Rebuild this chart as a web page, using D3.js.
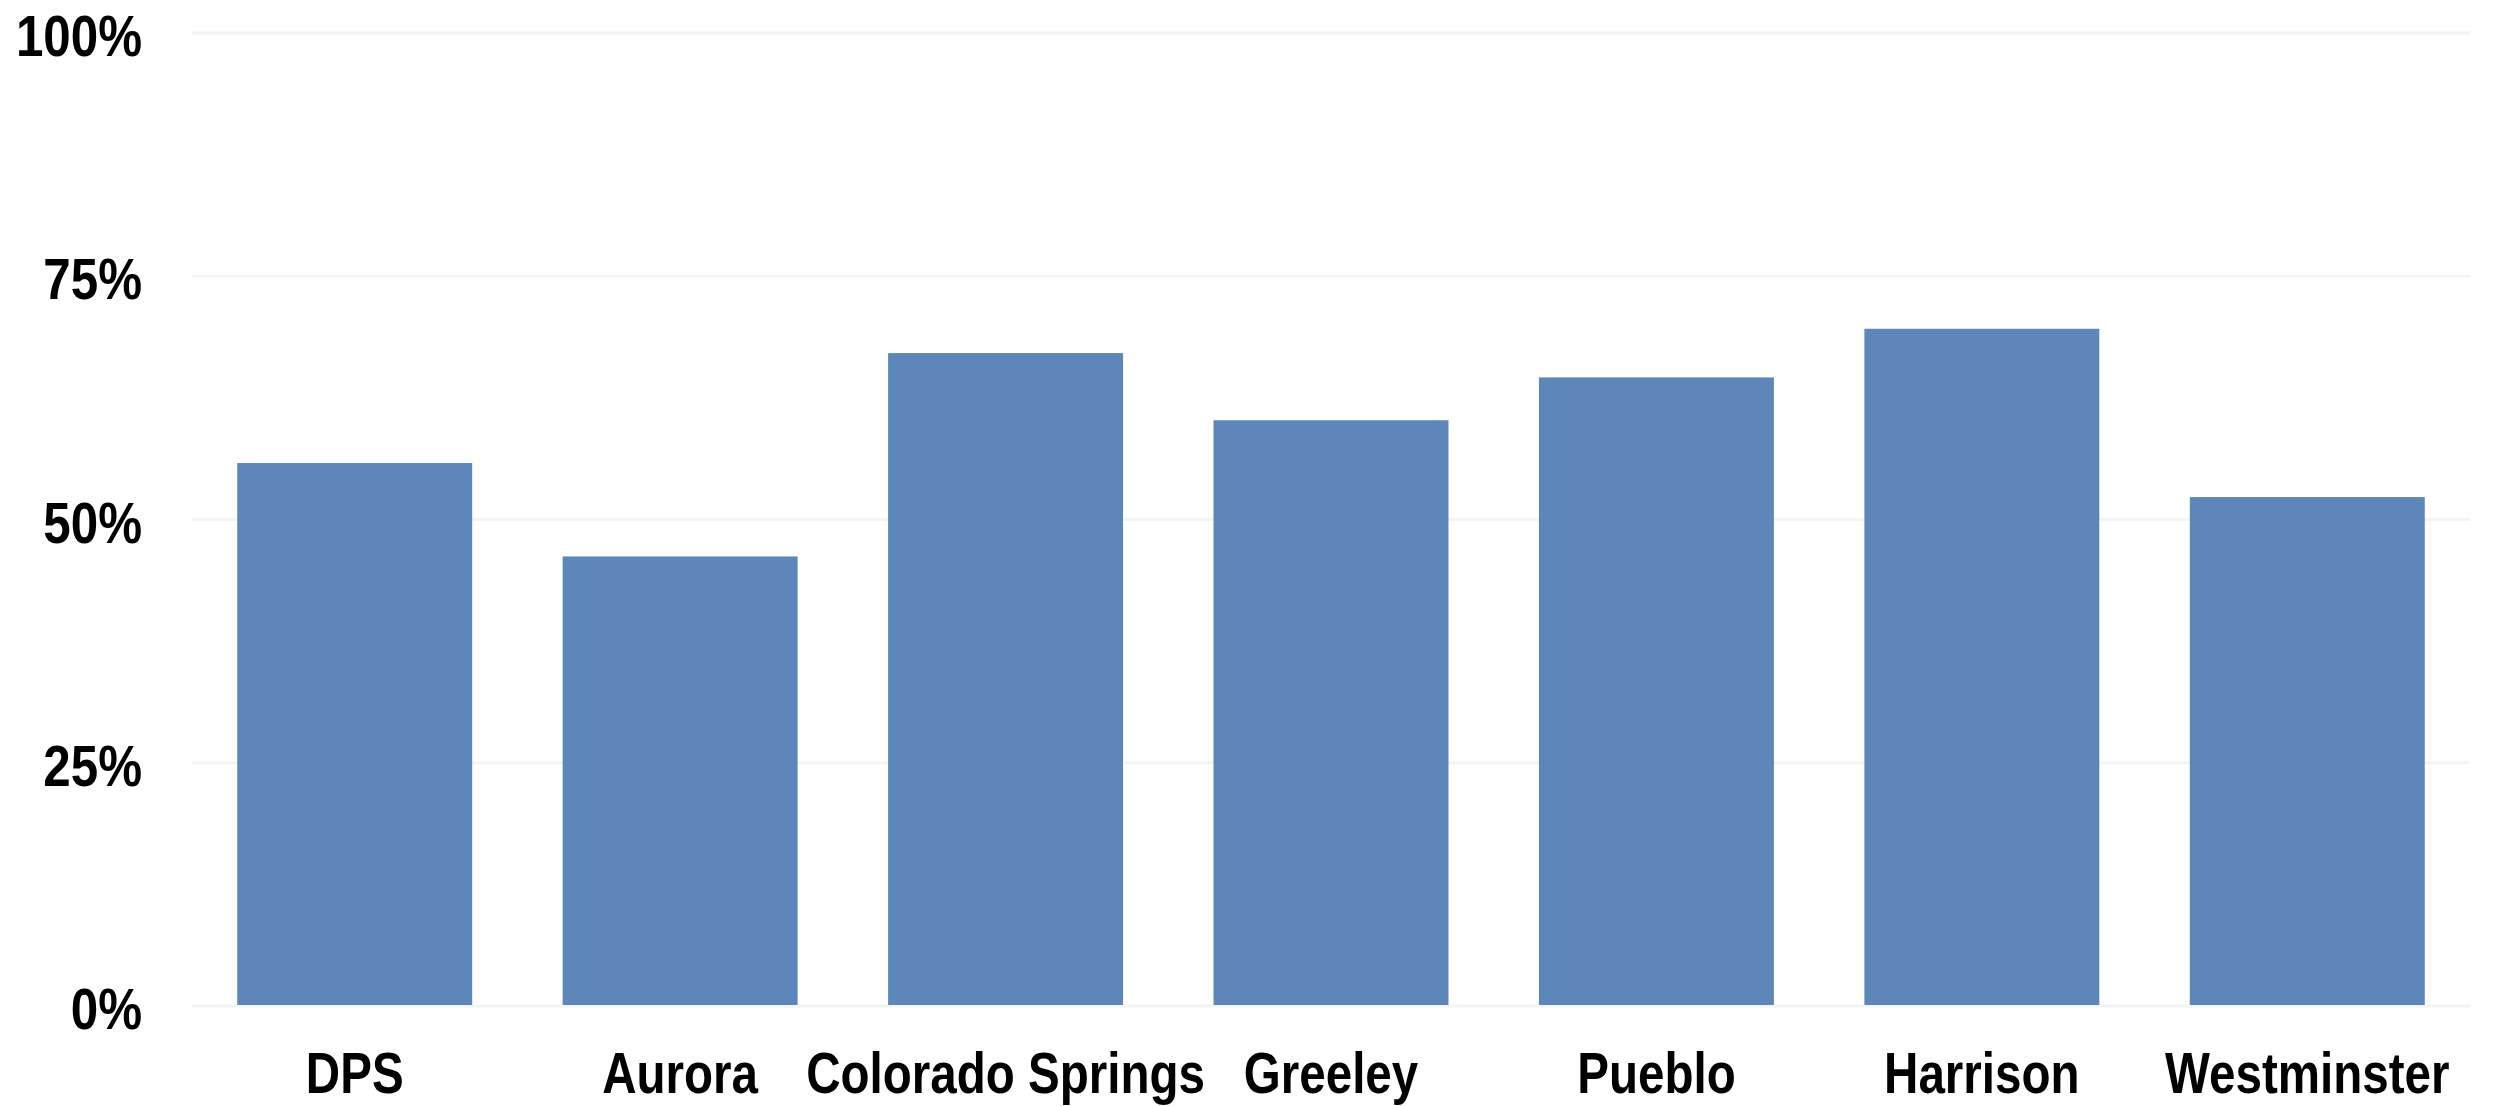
<!DOCTYPE html>
<html>
<head>
<meta charset="utf-8">
<script src="https://cdn.jsdelivr.net/npm/d3@7"></script>
<style>
  html, body { margin: 0; padding: 0; background: #ffffff; }
  svg { display: block; }
  text { font-family: "Liberation Sans", Arial, sans-serif; font-weight: bold; fill: #000; }
</style>
</head>
<body>
<svg id="chart" width="2493" height="1106"></svg>
<script>
const categories = ["DPS", "Aurora", "Colorado Springs", "Greeley", "Pueblo", "Harrison", "Westminster"];
const values = [0.557, 0.461, 0.670, 0.601, 0.645, 0.695, 0.522];
const yTicks = [0, 0.25, 0.5, 0.75, 1];
const yTickLabels = ["0%", "25%", "50%", "75%", "100%"];

const W = 2493, H = 1106;
const plotLeft = 192, plotRight = 2470, plotTop = 32, plotBottom = 1005;
const fontSize = 58;

const svg = d3.select("#chart");

const x = d3.scaleBand()
  .domain(categories)
  .range([plotLeft, plotRight])
  .paddingInner(0.278)
  .paddingOuter(0.139);

const y = d3.scaleLinear().domain([0, 1]).range([plotBottom, plotTop]);

// gridlines
svg.append("g").selectAll("line")
  .data(yTicks)
  .join("line")
  .attr("x1", plotLeft).attr("x2", plotRight)
  .attr("y1", d => y(d) + 1).attr("y2", d => y(d) + 1)
  .attr("stroke", "#f4f4f4")
  .attr("stroke-width", 3);

// bars
svg.append("g").selectAll("rect")
  .data(categories.map((c, i) => ({ c, v: values[i] })))
  .join("rect")
  .attr("x", d => x(d.c))
  .attr("width", x.bandwidth())
  .attr("y", d => y(d.v))
  .attr("height", d => y(0) - y(d.v))
  .attr("fill", "#5e87b9");

// y labels
svg.append("g").selectAll("text")
  .data(yTicks.map((t, i) => ({ t, label: yTickLabels[i] })))
  .join("text")
  .attr("transform", d => `translate(142,${y(d.t) + 24}) scale(0.85,1)`)
  .attr("text-anchor", "end")
  .style("font-size", fontSize + "px")
  .text(d => d.label);

// x labels
svg.append("g").selectAll("text")
  .data(categories)
  .join("text")
  .attr("transform", d => `translate(${x(d) + x.bandwidth() / 2},1093) scale(0.82,1)`)
  .attr("text-anchor", "middle")
  .style("font-size", fontSize + "px")
  .text(d => d);
</script>
</body>
</html>
